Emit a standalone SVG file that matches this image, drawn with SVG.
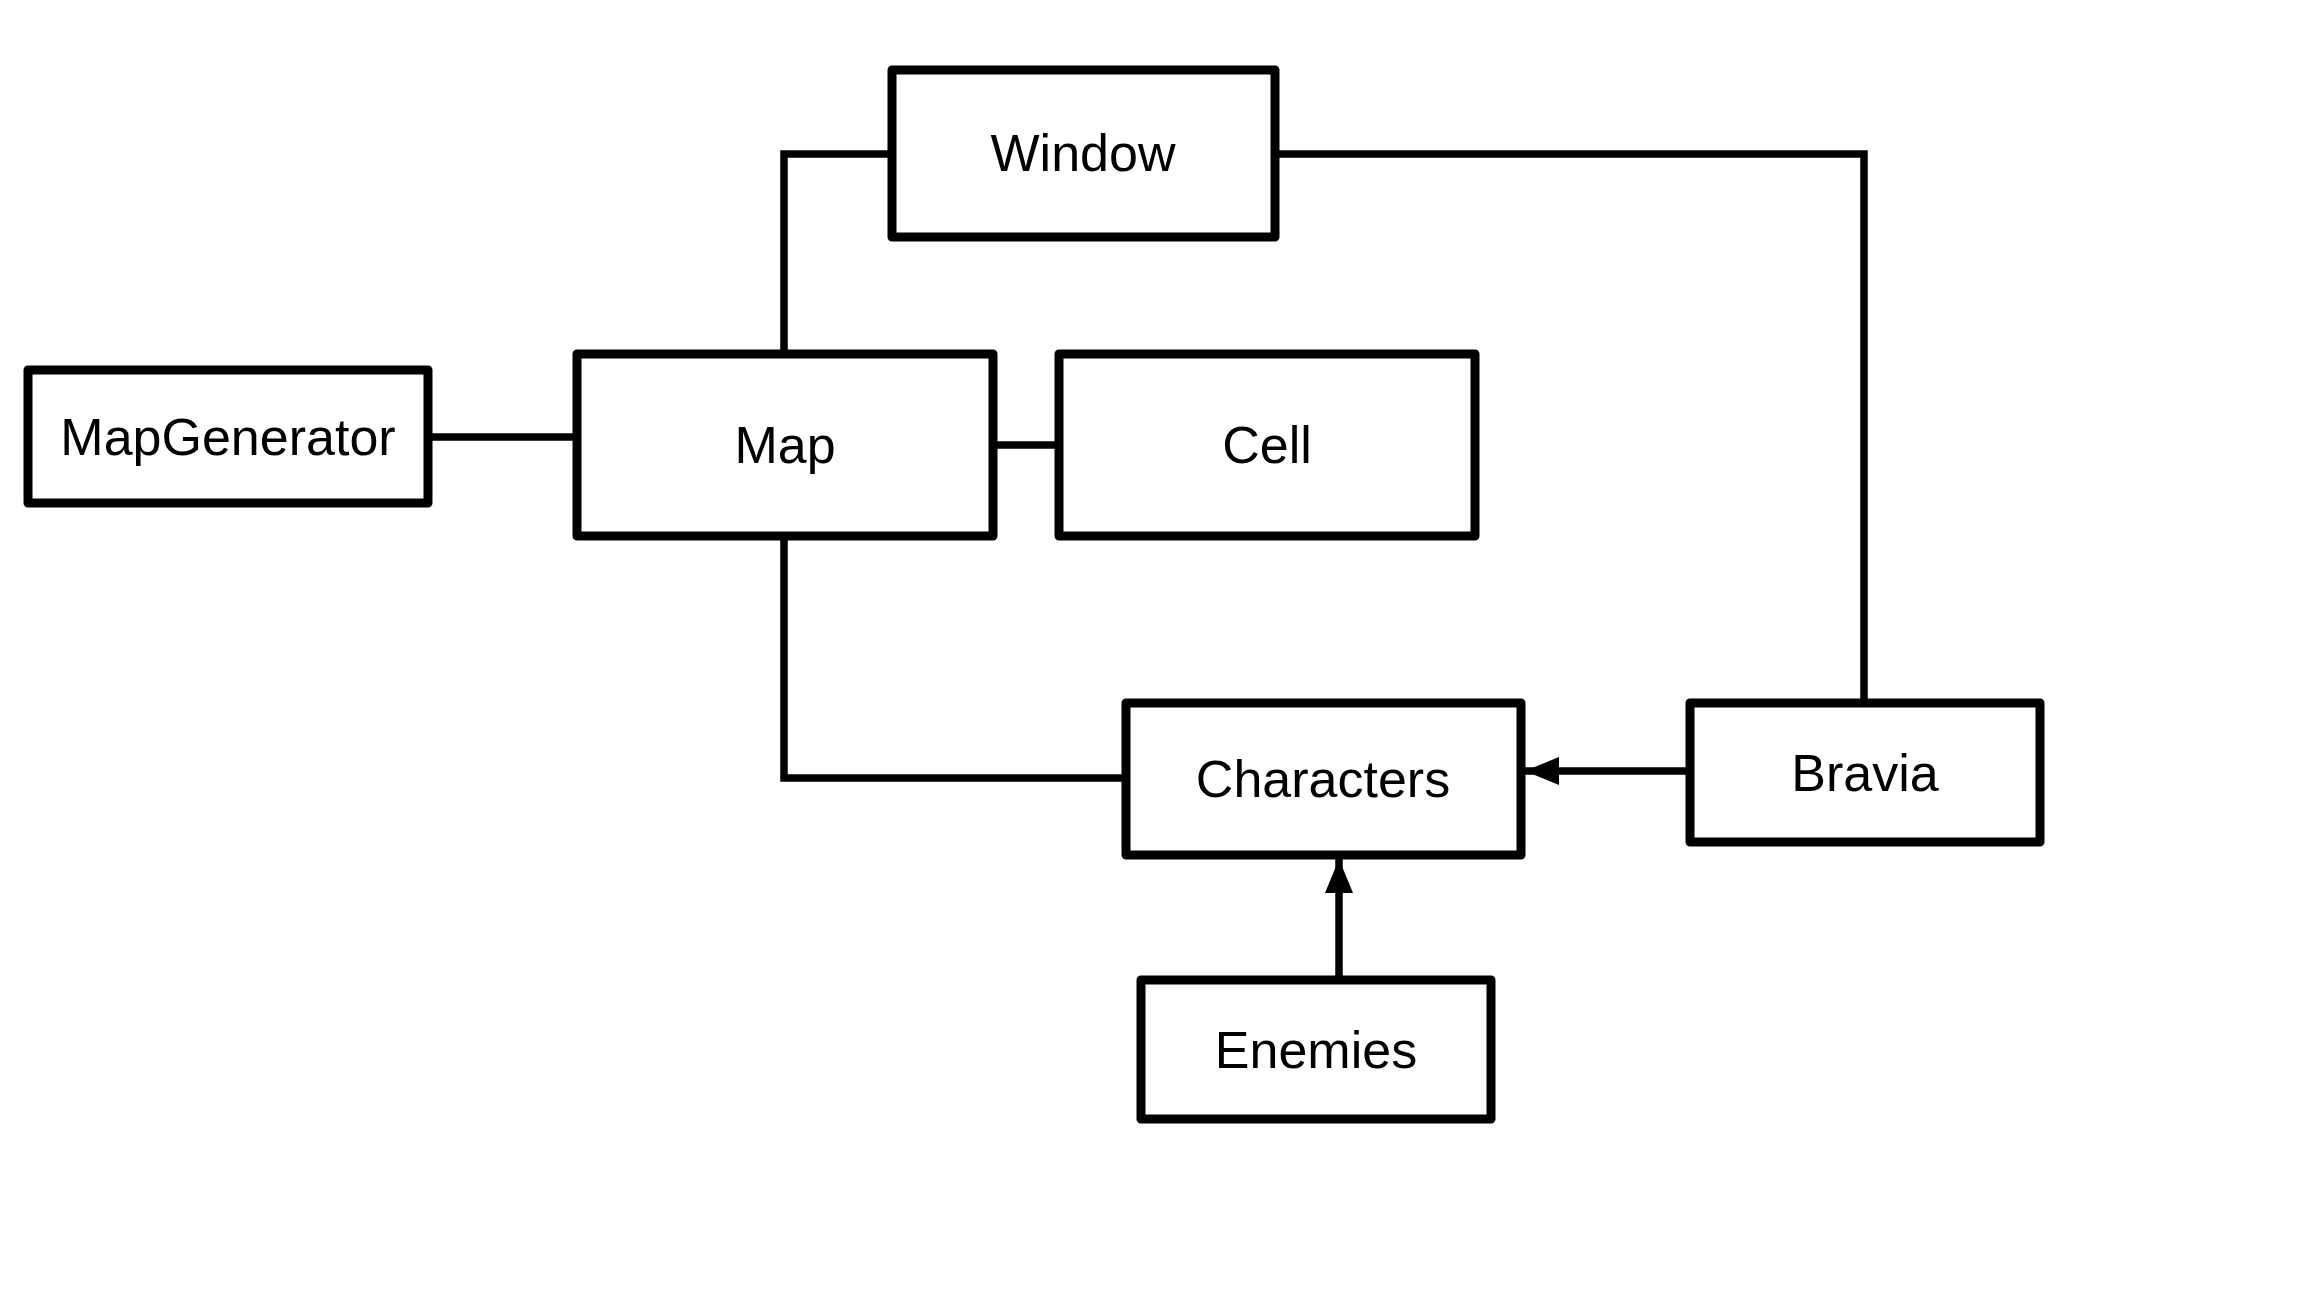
<svg xmlns="http://www.w3.org/2000/svg" width="2320" height="1292" viewBox="0 0 2320 1292">
<style>
.box{fill:#fff;stroke:#000;stroke-width:9;stroke-linejoin:round}
.lbl{font-family:"Liberation Sans",Arial,sans-serif;font-size:52px;fill:#000;text-anchor:middle}
.edge{fill:none;stroke:#000;stroke-width:7.5;stroke-linejoin:miter}
</style>
<defs>
<marker id="arr" markerUnits="userSpaceOnUse" markerWidth="36" markerHeight="30" refX="34" refY="15" orient="auto">
<path d="M0,1 L34,15 L0,29 Z" fill="#000"/>
</marker>
</defs>
<rect width="2320" height="1292" fill="#fff"/>
<g id="connectors">
<path class="edge" d="M892,154 H784 V354"/>
<path class="edge" d="M1275,154 H1864 V703"/>
<path class="edge" d="M428,437 H577"/>
<path class="edge" d="M993,445 H1059"/>
<path class="edge" d="M784,536 V778 H1126"/>
<path class="edge" d="M1690,771 H1525" marker-end="url(#arr)"/>
<path class="edge" d="M1339,980 V859" marker-end="url(#arr)"/>
</g>
<g id="window"><rect class="box" x="892" y="70" width="383" height="167"/><text class="lbl" x="1083" y="171">Window</text></g>
<g id="mapgenerator"><rect class="box" x="28" y="370" width="400" height="133"/><text class="lbl" x="228" y="455">MapGenerator</text></g>
<g id="map"><rect class="box" x="577" y="354" width="416" height="182"/><text class="lbl" x="785" y="463">Map</text></g>
<g id="cell"><rect class="box" x="1059" y="354" width="416" height="182"/><text class="lbl" x="1267" y="463">Cell</text></g>
<g id="characters"><rect class="box" x="1126" y="703" width="395" height="152"/><text class="lbl" x="1323" y="797">Characters</text></g>
<g id="bravia"><rect class="box" x="1690" y="703" width="350" height="139"/><text class="lbl" x="1865" y="791">Bravia</text></g>
<g id="enemies"><rect class="box" x="1141" y="980" width="350" height="139"/><text class="lbl" x="1316" y="1068">Enemies</text></g>
</svg>
